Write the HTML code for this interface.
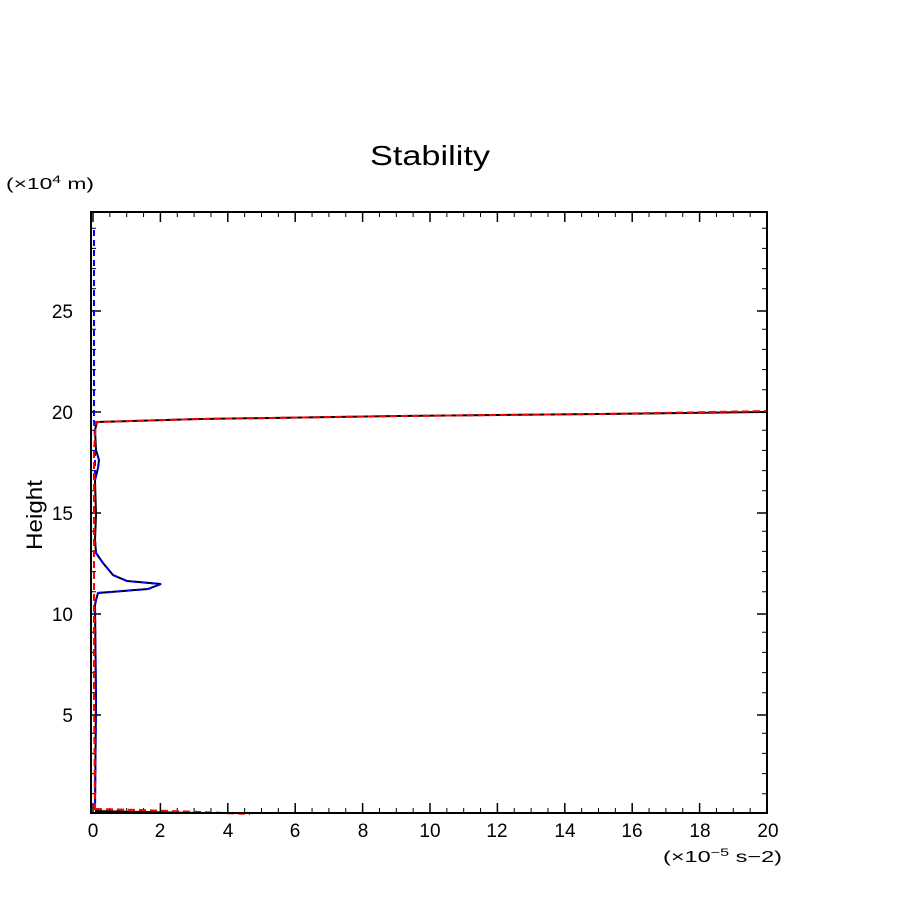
<!DOCTYPE html>
<html><head><meta charset="utf-8"><style>body{margin:0;background:#fff}svg{display:block}text{font-family:"Liberation Sans",sans-serif;fill:#000}</style></head>
<body>
<svg width="904" height="904" viewBox="0 0 904 904" xmlns="http://www.w3.org/2000/svg">
<rect width="904" height="904" fill="#fff"/>
<text x="370" y="165" font-size="28" textLength="120" lengthAdjust="spacingAndGlyphs">Stability</text>
<text x="6" y="189" font-size="16" textLength="88" lengthAdjust="spacingAndGlyphs">(×10<tspan font-size="11" dy="-6">4</tspan><tspan dy="6"> m)</tspan></text>
<text x="42" y="515" font-size="22" text-anchor="middle" transform="rotate(-90 42 515)" textLength="70" lengthAdjust="spacingAndGlyphs">Height</text>
<text x="663" y="862" font-size="16" textLength="119" lengthAdjust="spacingAndGlyphs">(×10<tspan font-size="11" dy="-6">−5</tspan><tspan dy="6"> s−2)</tspan></text>
<g stroke="#000" stroke-width="1.5">
<path d="M93,813v-10M93,212v10M160.4,813v-10M160.4,212v10M227.8,813v-10M227.8,212v10M295.2,813v-10M295.2,212v10M362.6,813v-10M362.6,212v10M430,813v-10M430,212v10M497.4,813v-10M497.4,212v10M564.8,813v-10M564.8,212v10M632.2,813v-10M632.2,212v10M699.6,813v-10M699.6,212v10"/>
<path d="M91,715h10M767,715h-10M91,614h10M767,614h-10M91,513h10M767,513h-10M91,412h10M767,412h-10M91,311h10M767,311h-10"/>
</g>
<g stroke="#000" stroke-width="1">
<path id="mx"/>
</g>
<g font-size="19" text-anchor="middle">
<text x="93" y="837">0</text><text x="160" y="837">2</text><text x="228" y="837">4</text><text x="295" y="837">6</text><text x="363" y="837">8</text><text x="430" y="837">10</text><text x="497" y="837">12</text><text x="565" y="837">14</text><text x="632" y="837">16</text><text x="700" y="837">18</text><text x="768" y="837">20</text>
</g>
<g font-size="19" text-anchor="end">
<text x="73" y="722">5</text><text x="73" y="621">10</text><text x="73" y="520">15</text><text x="73" y="419">20</text><text x="73" y="318">25</text>
</g>
<g fill="none">
<path d="M95,810 L96,700 L95,605 L96,600 L98,593 L148,589 L161,584 L127,581 L113,575 L103,563 L96,553 L95,540 L96,515 L95,480 L98,468 L99,460 L96,450 L95,430 L97,422 L200,419 L400,416 L600,414 L767,412" stroke="#000" stroke-width="2"/>
<path d="M95,811 L140,812 L200,813" stroke="#000" stroke-width="2"/>
<path d="M94,230 L94,420 L95,440 L95,480 L98,468 L99,460 L96,450 M95,540 L96,553 L103,563 L113,575 L127,581 L161,584 L148,589 L98,593 L96,600 L95,605 L96,700 L95,810" stroke="#00f" stroke-width="2" stroke-dasharray="6,4"/>
<path d="M95,810 L94,700 L94,600 L94,450 L96,422 L200,419 L400,416 L600,414 L767,411" stroke="#f00" stroke-width="2" stroke-dasharray="7,4"/>
<path d="M95,809 L140,810 L200,812 L250,814" stroke="#f00" stroke-width="2" stroke-dasharray="7,4"/>
</g>
<rect x="91" y="212" width="676" height="601" fill="none" stroke="#000" stroke-width="2"/>
<script>
var d="";
for(var i=1;i<40;i++){if(i%4==0)continue;var x=93+i*16.85;d+="M"+x+",813v-5M"+x+",212v5";}
for(var h=1;h<30;h++){if(h%5==0)continue;var y=814-h*20.2;d+="M91,"+y+"h5M767,"+y+"h-5";}
document.getElementById("mx").setAttribute("d",d);
</script>
</svg>
</body></html>
